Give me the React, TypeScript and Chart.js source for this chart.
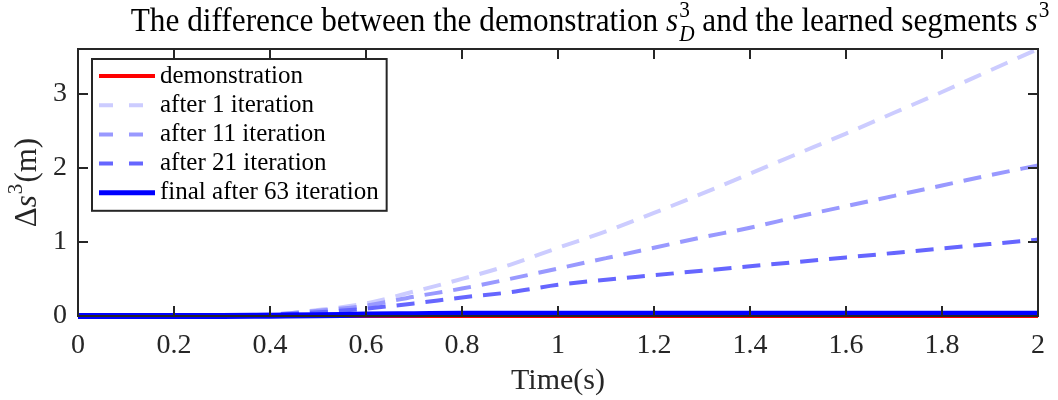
import React, { useEffect, useRef } from "react";
import { Chart, registerables } from "chart.js";

Chart.register(...registerables);

const FAM = "'Liberation Serif', 'Times New Roman', serif";

// ---- data ----
const timeS = [0, 0.1, 0.2, 0.3, 0.4, 0.5, 0.6, 0.7, 0.8, 0.9, 1.0, 1.1, 1.2, 1.3, 1.4, 1.5, 1.6, 1.7, 1.8, 1.9, 2.0];
const demonstration = [0, 0, 0, 0, 0, 0, 0, 0, 0, 0, 0, 0, 0, 0, 0, 0, 0, 0, 0, 0, 0];
const after1 = [0, 0, 0, 0.005, 0.02, 0.08, 0.17, 0.33, 0.5, 0.69, 0.92, 1.14, 1.39, 1.65, 1.92, 2.19, 2.46, 2.74, 3.02, 3.31, 3.6];
const after11 = [0, 0, 0, 0.005, 0.02, 0.07, 0.14, 0.26, 0.37, 0.5, 0.64, 0.78, 0.92, 1.06, 1.19, 1.34, 1.48, 1.62, 1.76, 1.9, 2.03];
const after21 = [0, 0, 0, 0.005, 0.015, 0.05, 0.1, 0.17, 0.25, 0.32, 0.42, 0.49, 0.55, 0.61, 0.67, 0.73, 0.79, 0.85, 0.91, 0.97, 1.03];
const finalAfter63 = [0, 0, 0, 0, 0.005, 0.01, 0.02, 0.025, 0.03, 0.03, 0.03, 0.03, 0.03, 0.03, 0.03, 0.03, 0.03, 0.03, 0.03, 0.03, 0.03];

const xTicks = [0, 0.2, 0.4, 0.6, 0.8, 1, 1.2, 1.4, 1.6, 1.8, 2];
const yTicks = [0, 1, 2, 3];
const seriesLabels = ["demonstration", "after 1 iteration", "after 11 iteration", "after 21 iteration", "final after 63 iteration"];
const xAxisTitle = "Time(s)";

const seriesStyles = [
  { color: "#ff0000", width: 4, dash: [] as number[], legendWidth: 4 },
  { color: "rgb(204,204,255)", width: 4, dash: [18, 11], legendWidth: 4 },
  { color: "rgb(153,153,255)", width: 4, dash: [18, 11], legendWidth: 4 },
  { color: "rgb(102,102,255)", width: 4, dash: [18, 11], legendWidth: 4 },
  { color: "#0000ff", width: 6, dash: [] as number[], legendWidth: 5 },
];
const seriesValues = [demonstration, after1, after11, after21, finalAfter63];

const AXIS = "#262626";

function titleRun(ctx: CanvasRenderingContext2D, size: number, x: number, y: number, draw: boolean) {
  let cx = x;
  const put = (t: string, italic: boolean, scale: number, dy: number) => {
    ctx.font = `${italic ? "italic " : ""}${size * scale}px ${FAM}`;
    const w = ctx.measureText(t).width;
    if (draw) ctx.fillText(t, cx, y + dy * size);
    return w;
  };
  cx += put("The difference between the demonstration ", false, 1, 0);
  cx += put("s", true, 1, 0) + 1;
  const a = put("3", false, 0.68, -0.42);
  const b = put("D", true, 0.68, 0.3);
  cx += Math.max(a, b);
  cx += put(" and the learned segments ", false, 1, 0);
  cx += put("s", true, 1, 0) + 1;
  cx += put("3", false, 0.68, -0.42);
  return cx - x;
}

function yLabelRun(ctx: CanvasRenderingContext2D, size: number, x: number, draw: boolean) {
  let cx = x;
  const put = (t: string, italic: boolean, scale: number, dy: number) => {
    ctx.font = `${italic ? "italic " : ""}${size * scale}px ${FAM}`;
    const w = ctx.measureText(t).width;
    if (draw) ctx.fillText(t, cx, dy * size);
    return w;
  };
  cx += put("\u0394", false, 1, 0);
  cx += put("s", true, 1, 0) + 1;
  cx += put("3", false, 0.68, -0.45) + 1;
  cx += put("(m)", false, 1, 0);
  return cx - x;
}

const decorPlugin = {
  id: "matlabDecor",
  afterDraw(chart: any) {
    const ctx: CanvasRenderingContext2D = chart.ctx;
    const area = chart.chartArea;
    const xs = chart.scales.x;
    const ys = chart.scales.y;
    ctx.save();

    // box
    ctx.strokeStyle = AXIS;
    ctx.lineWidth = 2;
    ctx.setLineDash([]);
    ctx.strokeRect(area.left, area.top, area.right - area.left, area.bottom - area.top);

    // inward ticks
    const tl = 10;
    ctx.beginPath();
    for (const v of xTicks) {
      const px = Math.round(xs.getPixelForValue(v));
      ctx.moveTo(px, area.bottom);
      ctx.lineTo(px, area.bottom - tl);
      ctx.moveTo(px, area.top);
      ctx.lineTo(px, area.top + tl);
    }
    for (const v of yTicks) {
      const py = Math.round(ys.getPixelForValue(v));
      ctx.moveTo(area.left, py);
      ctx.lineTo(area.left + tl, py);
      ctx.moveTo(area.right, py);
      ctx.lineTo(area.right - tl, py);
    }
    ctx.stroke();

    // title
    ctx.fillStyle = "#000";
    ctx.textBaseline = "alphabetic";
    ctx.textAlign = "left";
    const base = 30;
    const targetW = 919;
    const w0 = titleRun(ctx, base, 0, 0, false);
    const tsize = (base * targetW) / w0;
    const tw = titleRun(ctx, tsize, 0, 0, false);
    const tcx = (area.left + area.right) / 2 + 32;
    ctx.save();
    ctx.translate(0, 31);
    ctx.scale(1, 1.07);
    titleRun(ctx, tsize, tcx - tw / 2, 0, true);
    ctx.restore();

    // x axis title
    ctx.font = `30px ${FAM}`;
    ctx.textAlign = "center";
    ctx.fillStyle = AXIS;
    ctx.fillText(xAxisTitle, (area.left + area.right) / 2, 389);

    // y axis title
    ctx.save();
    ctx.translate(36, (area.top + area.bottom) / 2);
    ctx.rotate(-Math.PI / 2);
    ctx.textAlign = "left";
    const yw = yLabelRun(ctx, 31, 0, false);
    yLabelRun(ctx, 31, -yw / 2, true);
    ctx.restore();

    // legend
    ctx.font = `25px ${FAM}`;
    let maxW = 0;
    for (const l of seriesLabels) maxW = Math.max(maxW, ctx.measureText(l).width);
    const lx = area.left + 14;
    const ly = area.top + 10;
    const rowH = 29.2;
    const lw = 68 + maxW + 8;
    const lh = 17 + rowH * (seriesLabels.length - 1) + 18;
    ctx.fillStyle = "#fff";
    ctx.fillRect(lx, ly, lw, lh);
    ctx.strokeStyle = AXIS;
    ctx.lineWidth = 2;
    ctx.strokeRect(lx, ly, lw, lh);
    seriesLabels.forEach((label, i) => {
      const st = seriesStyles[i];
      const cy = ly + 17 + i * rowH;
      ctx.beginPath();
      ctx.strokeStyle = st.color;
      ctx.lineWidth = st.legendWidth;
      ctx.setLineDash(st.dash.length ? [14, 16] : []);
      ctx.moveTo(lx + 7, cy);
      ctx.lineTo(lx + 63, cy);
      ctx.stroke();
      ctx.setLineDash([]);
      ctx.fillStyle = "#000";
      ctx.textAlign = "left";
      ctx.textBaseline = "middle";
      ctx.fillText(label, lx + 68, cy);
    });

    ctx.restore();
  },
};

export default function App() {
  const ref = useRef<HTMLCanvasElement | null>(null);
  useEffect(() => {
    document.body.style.margin = "0";
    const canvas = ref.current;
    if (!canvas) return;
    const order = [4, 3, 2, 1, 0];
    const chart = new Chart(canvas, {
      type: "line",
      data: {
        datasets: seriesValues.map((vals, i) => ({
          label: seriesLabels[i],
          data: timeS.map((t, k) => ({ x: t, y: vals[k] })),
          borderColor: seriesStyles[i].color,
          backgroundColor: seriesStyles[i].color,
          borderWidth: seriesStyles[i].width,
          borderDash: seriesStyles[i].dash,
          pointRadius: 0,
          cubicInterpolationMode: "monotone",
          fill: false,
          order: order[i],
          clip: 8,
        })),
      },
      options: {
        animation: false,
        responsive: false,
        devicePixelRatio: 1,
        layout: { padding: { top: 49, right: 15, left: 0, bottom: 0 } },
        plugins: {
          legend: { display: false },
          title: { display: false },
          tooltip: { enabled: false },
        },
        scales: {
          x: {
            type: "linear",
            min: 0,
            max: 2,
            grid: { display: false, drawTicks: false },
            border: { display: false },
            afterBuildTicks: (s: any) => {
              s.ticks = xTicks.map((v) => ({ value: v }));
            },
            afterFit: (s: any) => {
              s.height = 84;
            },
            ticks: {
              padding: 13,
              autoSkip: false,
              maxRotation: 0,
              color: AXIS,
              font: { family: FAM, size: 28 },
              callback: (v: any) => String(Number(Number(v).toFixed(2))),
            },
          },
          y: {
            type: "linear",
            min: 0,
            max: 3.6,
            grid: { display: false, drawTicks: false },
            border: { display: false },
            afterBuildTicks: (s: any) => {
              s.ticks = yTicks.map((v) => ({ value: v }));
            },
            afterFit: (s: any) => {
              s.width = 78;
            },
            ticks: {
              padding: 11,
              color: AXIS,
              font: { family: FAM, size: 28 },
              callback: (v: any) => String(v),
            },
          },
        },
      } as any,
      plugins: [decorPlugin],
    });
    return () => chart.destroy();
  }, []);
  return (
    <div style={{ width: 1058, height: 400, background: "#fff" }}>
      <canvas ref={ref} width={1058} height={400} style={{ display: "block" }} />
    </div>
  );
}
